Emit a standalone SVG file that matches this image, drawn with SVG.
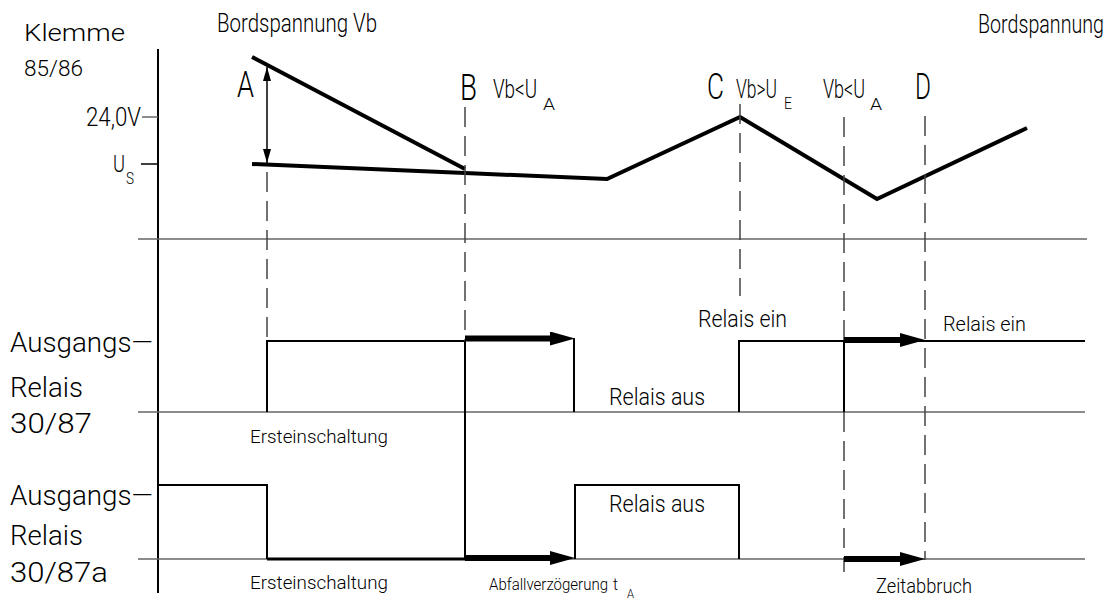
<svg xmlns="http://www.w3.org/2000/svg" width="1111" height="600" viewBox="0 0 1111 600">
<style>
.t{font-family:Roboto,"Liberation Sans",Arial,sans-serif;font-weight:300;fill:#000}
.ax{stroke:#000;stroke-width:2;fill:none}
.grid{stroke:#666;stroke-width:1.5;fill:none}
.dash{stroke:#444;stroke-width:1.5;stroke-dasharray:20 9;fill:none}
.sig{stroke:#000;stroke-width:2;fill:none}
.sigb{stroke:#000;stroke-width:3;fill:none}
.vb{stroke:#000;stroke-width:4;fill:none;stroke-linejoin:miter}
.bar{stroke:#000;stroke-width:6;fill:none}
.thin{stroke:#000;stroke-width:1.5;fill:none}
</style>
<defs>
<marker id="head" markerUnits="userSpaceOnUse" viewBox="0 -7 25 14" markerWidth="25" markerHeight="14" refX="0" refY="0" orient="auto">
<path d="M0,-7 L25,0 L0,7 z" fill="#000"/>
</marker>
<marker id="small" markerUnits="userSpaceOnUse" viewBox="-14 -4 14 8" markerWidth="14" markerHeight="8" refX="0" refY="0" orient="auto-start-reverse">
<path d="M-14,-4 L0,0 L-14,4 z" fill="#000"/>
</marker>
</defs>
<rect width="1111" height="600" fill="#fff"/>

<g id="axes">
<line class="ax" x1="158" y1="49" x2="158" y2="593"/>
<line class="grid" x1="138" y1="239" x2="1087" y2="239"/>
<line class="grid" x1="138" y1="412" x2="1085" y2="412"/>
<line class="grid" x1="138" y1="559" x2="1085" y2="559"/>
<line class="grid" x1="142" y1="117" x2="158" y2="117"/>
<line class="thin" x1="141" y1="164" x2="158" y2="164"/>
</g>

<g id="labels-left">
<text class="t" x="24" y="41" font-size="23" textLength="101" lengthAdjust="spacingAndGlyphs">Klemme</text>
<text class="t" x="24" y="76" font-size="22" textLength="59" lengthAdjust="spacingAndGlyphs">85/86</text>
<text class="t" x="86" y="126" font-size="25" textLength="55" lengthAdjust="spacingAndGlyphs">24,0V</text>
<text class="t" x="113" y="172" font-size="24" textLength="12" lengthAdjust="spacingAndGlyphs">U</text>
<text class="t" x="126" y="184" font-size="16" textLength="8" lengthAdjust="spacingAndGlyphs">S</text>
<text class="t" x="10" y="352" font-size="27" textLength="143" lengthAdjust="spacingAndGlyphs">Ausgangs—</text>
<text class="t" x="10" y="397" font-size="27" textLength="73" lengthAdjust="spacingAndGlyphs">Relais</text>
<text class="t" x="10" y="433" font-size="27" textLength="82" lengthAdjust="spacingAndGlyphs">30/87</text>
<text class="t" x="10" y="505" font-size="27" textLength="143" lengthAdjust="spacingAndGlyphs">Ausgangs—</text>
<text class="t" x="10" y="545" font-size="27" textLength="73" lengthAdjust="spacingAndGlyphs">Relais</text>
<text class="t" x="10" y="582" font-size="27" textLength="98" lengthAdjust="spacingAndGlyphs">30/87a</text>
</g>

<g id="labels-top">
<text class="t" x="217" y="32" font-size="26" textLength="160" lengthAdjust="spacingAndGlyphs">Bordspannung Vb</text>
<text class="t" x="978" y="33" font-size="26" textLength="126" lengthAdjust="spacingAndGlyphs">Bordspannung</text>
</g>

<g id="point-A">
<text class="t" x="237" y="97" font-size="36" textLength="17" lengthAdjust="spacingAndGlyphs">A</text>
</g>
<g id="point-B">
<text class="t" x="460" y="100" font-size="36" textLength="17" lengthAdjust="spacingAndGlyphs">B</text>
<text class="t" x="493" y="98" font-size="25" textLength="44" lengthAdjust="spacingAndGlyphs">Vb&lt;U</text>
<text class="t" x="543" y="110" font-size="16" textLength="12" lengthAdjust="spacingAndGlyphs">A</text>
</g>
<g id="point-C">
<text class="t" x="707" y="99" font-size="36" textLength="17" lengthAdjust="spacingAndGlyphs">C</text>
<text class="t" x="736" y="98" font-size="25" textLength="41" lengthAdjust="spacingAndGlyphs">Vb&gt;U</text>
<text class="t" x="784" y="109" font-size="16" textLength="8" lengthAdjust="spacingAndGlyphs">E</text>
</g>
<g id="point-VbUA">
<text class="t" x="823" y="98" font-size="25" textLength="42" lengthAdjust="spacingAndGlyphs">Vb&lt;U</text>
<text class="t" x="870" y="110" font-size="16" textLength="12" lengthAdjust="spacingAndGlyphs">A</text>
</g>
<g id="point-D">
<text class="t" x="915" y="99" font-size="36" textLength="16" lengthAdjust="spacingAndGlyphs">D</text>
</g>

<g id="voltage">
<polyline class="vb" points="252,57 465,169"/>
<polyline class="vb" points="252,164 465,173 607,179 740,117 877,199 1027,128"/>
</g>

<g id="relay-30-87">
<path class="sig" d="M267,412 V341 H465"/>
<path class="sig" d="M574,338 V412"/>
<path class="sig" d="M739,412 V341 H1085"/>
<text class="t" x="250" y="443" font-size="18" textLength="138" lengthAdjust="spacingAndGlyphs">Ersteinschaltung</text>
<text class="t" x="698" y="327" font-size="24" textLength="89" lengthAdjust="spacingAndGlyphs">Relais ein</text>
<text class="t" x="609" y="405" font-size="24" textLength="96" lengthAdjust="spacingAndGlyphs">Relais aus</text>
<text class="t" x="943" y="331" font-size="20" textLength="83" lengthAdjust="spacingAndGlyphs">Relais ein</text>
</g>

<g id="relay-30-87a">
<path class="sig" d="M158,485 H267 V559"/>
<path class="sigb" d="M267,559 H465"/>
<path class="sig" d="M575,559 V485 H739 V559"/>
<text class="t" x="250" y="589" font-size="18" textLength="138" lengthAdjust="spacingAndGlyphs">Ersteinschaltung</text>
<text class="t" x="609" y="512" font-size="24" textLength="96" lengthAdjust="spacingAndGlyphs">Relais aus</text>
<text class="t" x="489" y="590" font-size="17" textLength="119" lengthAdjust="spacingAndGlyphs">Abfallverzögerung</text>
<text class="t" x="613" y="590" font-size="17" textLength="5" lengthAdjust="spacingAndGlyphs">t</text>
<text class="t" x="627" y="598" font-size="13" textLength="7" lengthAdjust="spacingAndGlyphs">A</text>
<text class="t" x="876" y="593" font-size="20" textLength="96" lengthAdjust="spacingAndGlyphs">Zeitabbruch</text>
</g>

<g id="connectors">
<line class="thin" x1="267" y1="67" x2="267" y2="163" marker-start="url(#small)" marker-end="url(#small)"/>
<line class="dash" x1="267" y1="172" x2="267" y2="341"/>
<line class="dash" x1="465" y1="107" x2="465" y2="341"/>
<line class="sig" x1="465" y1="341" x2="465" y2="559"/>
<line class="dash" x1="740" y1="104" x2="740" y2="296"/>
<line class="dash" x1="844" y1="117" x2="844" y2="341"/>
<line class="sig" x1="844" y1="341" x2="844" y2="412"/>
<line class="dash" x1="844" y1="412" x2="844" y2="572"/>
<line class="dash" x1="925" y1="116" x2="925" y2="560"/>
<line class="bar" x1="465" y1="338.5" x2="550" y2="338.5" marker-end="url(#head)"/>
<line class="bar" x1="465" y1="558" x2="550" y2="558" marker-end="url(#head)"/>
<line class="bar" x1="844" y1="340" x2="900" y2="340" marker-end="url(#head)"/>
<line class="bar" x1="844" y1="559" x2="900" y2="559" marker-end="url(#head)"/>
</g>
</svg>
